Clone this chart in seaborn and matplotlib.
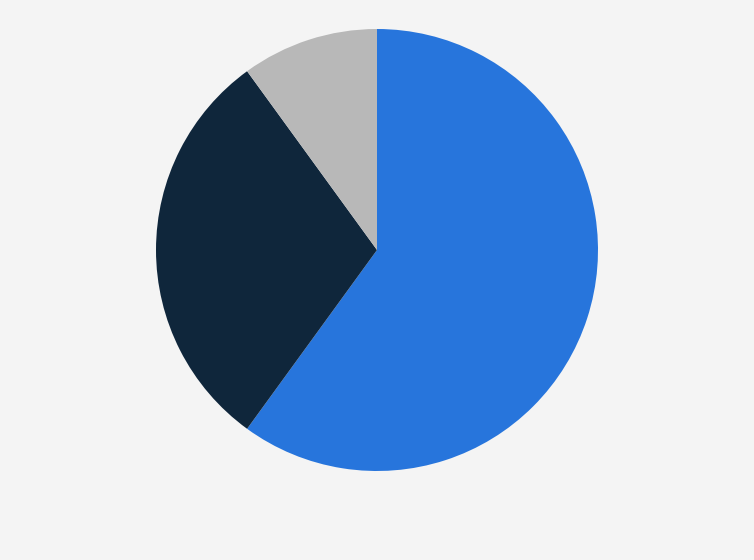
import matplotlib
matplotlib.use("Agg")
import matplotlib.pyplot as plt
import seaborn as sns

# shares (percent)
labels = ["Blue", "Navy", "Grey"]
shares = [60, 30, 10]
colors = ["#2775dc", "#0f263b", "#b8b8b8"]

sns.set_theme(style="white")
plt.rcParams['font.family'] = ['DejaVu Sans']

fig = plt.figure(figsize=(7.54, 5.6), dpi=100)
fig.patch.set_facecolor("#f4f4f4")

# pie centred at (377, 250) px with radius ~220 px
ax = fig.add_axes([(377 - 221) / 754, (310 - 221) / 560, 442 / 754, 442 / 560])
ax.set_facecolor("#f4f4f4")
ax.pie(shares, colors=colors, startangle=90, counterclock=False,
       wedgeprops=dict(linewidth=0), radius=1.0)
ax.set_xlim(-1, 1)
ax.set_ylim(-1, 1)
ax.set_aspect("equal")
ax.axis("off")

fig.savefig("out.png", dpi=100, facecolor=fig.get_facecolor())
